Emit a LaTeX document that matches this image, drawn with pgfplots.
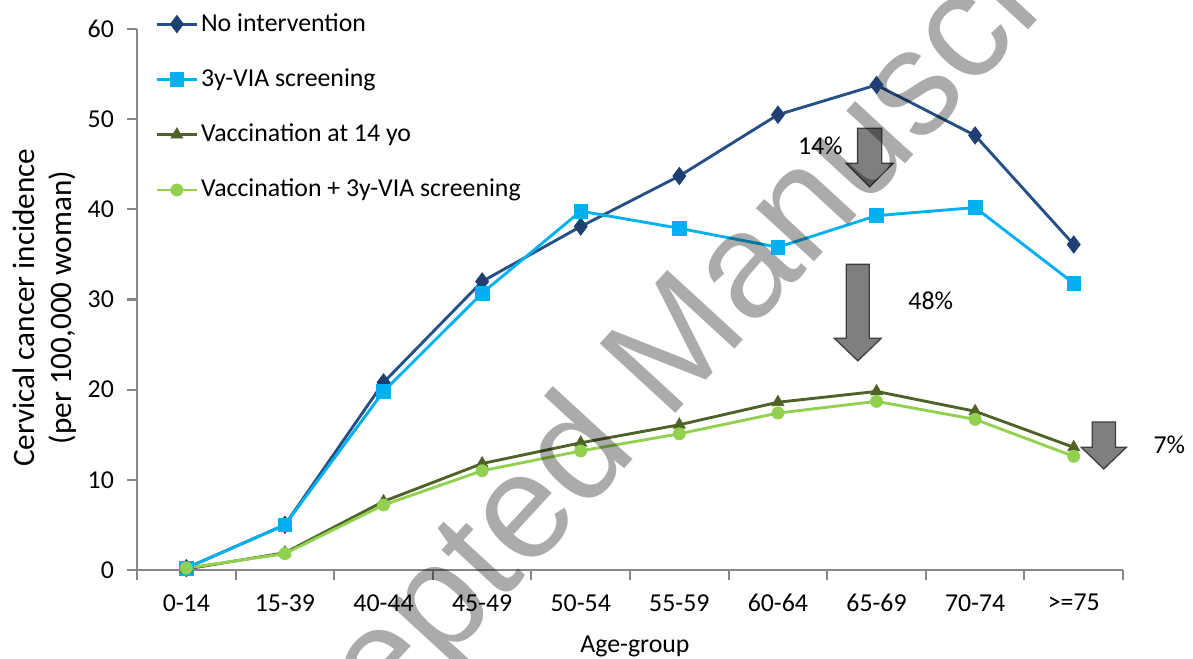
\documentclass[border=0pt]{standalone}
\usepackage{fontspec}
\setmainfont{Carlito}
\newfontfamily\wmfont{Liberation Sans}
\usepackage{pgfplots}
\pgfplotsset{compat=1.18}
\definecolor{cNo}{HTML}{264F86}
\definecolor{cNoM}{HTML}{1F3F72}
\definecolor{cScr}{HTML}{00B0F0}
\definecolor{cVac}{HTML}{4F6228}
\definecolor{cVS}{HTML}{92D050}
\definecolor{axgray}{HTML}{868686}
\definecolor{arrfill}{HTML}{7F7F7F}
\definecolor{arrdraw}{HTML}{3F3F3F}
\begin{document}
\begin{tikzpicture}[x=1pt,y=1pt]
\begin{axis}[name=ax, at={(0,0)}, anchor=south west,
  scale only axis, width=376.3pt, height=206.4pt,
  xmin=-0.5, xmax=9.5, ymin=0, ymax=60,
  clip=false,
  axis x line=bottom, axis y line=left,
  axis line style={axgray, line width=0.8pt, -},
  xtick={0,...,9},
  xticklabels={0-14,15-39,40-44,45-49,50-54,55-59,60-64,65-69,70-74,{>=75}},
  major x tick style={draw=none},
  minor xtick={-0.5,0.5,...,9.5},
  ytick={0,10,...,60},
  tick align=outside, major tick length=3.8pt, minor tick length=3.8pt,
  tick style={axgray, line width=0.8pt},
  /pgf/number format/assume math mode=true,
  tick label style={font=\fontsize{9.85}{11}\selectfont, text=black},
  xticklabel style={yshift=-2pt},
  yticklabel style={xshift=-1.5pt},
  xlabel={Age-group},
  xlabel style={at={(axis description cs:0.505,-0.142)}, anchor=center, font=\fontsize{9.85}{11}\selectfont},
  ylabel={Cervical cancer incidence\\(per 100,000 woman)},
  ylabel style={at={(axis description cs:-0.0933,0.485)}, anchor=center, rotate=0, align=center, font=\fontsize{11.9}{14.2}\selectfont},
  legend style={at={(axis description cs:0.018,1.04)}, anchor=north west, draw=none, fill=none,
    font=\fontsize{9.85}{11}\selectfont, row sep=8.8pt, inner sep=0pt, nodes={inner xsep=1pt}},
  legend cell align=left,
  legend image code/.code={\draw[mark repeat=2,mark phase=2] plot coordinates {(0cm,0cm) (0.27cm,0cm) (0.54cm,0cm)};},
]
\addplot[cNo, line width=1.1pt, mark=diamond*, mark size=3.3pt, mark options={fill=cNoM, draw=cNoM, line width=0.3pt}]
  coordinates {(0,0.2) (1,5.0) (2,20.8) (3,32.0) (4,38.1) (5,43.7) (6,50.5) (7,53.8) (8,48.2) (9,36.1)};
\addlegendentry{No intervention}
\addplot[cScr, line width=1.1pt, mark=square*, mark size=2.6pt, mark options={fill=cScr, draw=cScr, line width=0.3pt}]
  coordinates {(0,0.2) (1,5.0) (2,19.8) (3,30.7) (4,39.8) (5,37.9) (6,35.8) (7,39.3) (8,40.2) (9,31.8)};
\addlegendentry{3y-VIA screening}
\addplot[cVac, line width=1.1pt, mark=triangle*, mark size=2.6pt, mark options={fill=cVac, draw=cVac, line width=0.3pt}]
  coordinates {(0,0.1) (1,1.9) (2,7.6) (3,11.8) (4,14.1) (5,16.1) (6,18.6) (7,19.8) (8,17.6) (9,13.6)};
\addlegendentry{Vaccination at 14 yo}
\addplot[cVS, line width=1.1pt, mark=*, mark size=2.3pt, mark options={fill=cVS, draw=cVS, line width=0.3pt}]
  coordinates {(0,0.2) (1,1.8) (2,7.2) (3,11.0) (4,13.2) (5,15.1) (6,17.4) (7,18.7) (8,16.7) (9,12.6)};
\addlegendentry{Vaccination + 3y-VIA screening}
% arrows
\draw[arrdraw, fill=arrfill, line width=0.5pt]
  (axis cs:6.808,49.0) -- (axis cs:7.052,49.0) -- (axis cs:7.052,45.1) -- (axis cs:7.168,45.1)
  -- (axis cs:6.93,42.5) -- (axis cs:6.692,45.1) -- (axis cs:6.808,45.1) -- cycle;
\draw[arrdraw, fill=arrfill, line width=0.5pt]
  (axis cs:6.693,33.9) -- (axis cs:6.927,33.9) -- (axis cs:6.927,25.7) -- (axis cs:7.048,25.7)
  -- (axis cs:6.81,23.2) -- (axis cs:6.572,25.7) -- (axis cs:6.693,25.7) -- cycle;
\draw[arrdraw, fill=arrfill, line width=0.5pt]
  (axis cs:9.187,16.4) -- (axis cs:9.423,16.4) -- (axis cs:9.423,13.6) -- (axis cs:9.533,13.6)
  -- (axis cs:9.305,11.2) -- (axis cs:9.077,13.6) -- (axis cs:9.187,13.6) -- cycle;
\node[font=\fontsize{9.85}{11}\selectfont] at (axis cs:6.43,47.1) {14\%};
\node[font=\fontsize{9.85}{11}\selectfont] at (axis cs:7.55,29.9) {48\%};
\node[font=\fontsize{9.85}{11}\selectfont] at (axis cs:9.97,13.9) {7\%};
% watermark
\node[rotate=47.4, text=black, text opacity=0.33, font=\wmfont\fontsize{57}{60}\selectfont, inner sep=0pt]
  at (axis cs:4.82,22.0) {Accepted Manuscript};
\end{axis}
\pgfresetboundingbox
\path[use as bounding box] ([shift={(-52.3pt,-34.0pt)}]ax.south west) rectangle ([shift={(403.0pt,217.5pt)}]ax.south west);
\end{tikzpicture}
\end{document}
